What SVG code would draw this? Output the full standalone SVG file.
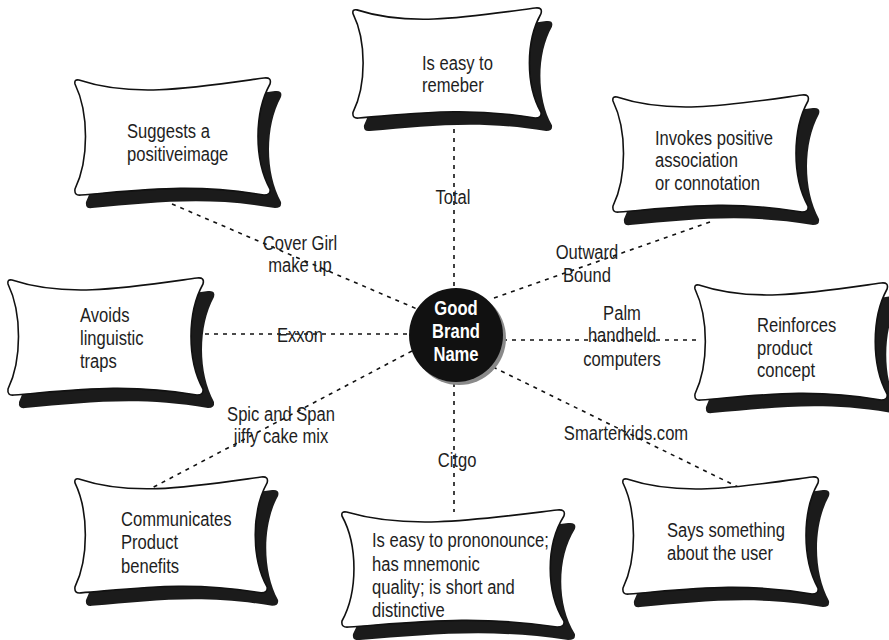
<svg xmlns="http://www.w3.org/2000/svg" width="889" height="640" viewBox="0 0 889 640">
<style>
.sh{fill:#1b1b1b;stroke:none}
.fr{fill:#fff;stroke:#111;stroke-width:1.6}
.t{font-family:"Liberation Sans",Arial,sans-serif;font-size:21px;fill:#1e1e1e}
.lb{text-anchor:middle}
.c{stroke:#111;stroke-width:1.6;stroke-dasharray:4 5;fill:none}
.ctr{font-family:"Liberation Sans",Arial,sans-serif;font-weight:bold;font-size:21px;fill:#fff;text-anchor:middle}
</style>
<defs>
<path id="p" vector-effect="non-scaling-stroke" d="M4,2 C58,20 117,10 189,0 Q197,-1 195,6 C179,35 179,82 195,111 Q196,117 189,117 C117,105 68,112 6,117 Q-1,118 0,111 C14,82 14,35 0,6 Q-1,1 4,2 Z"/>
</defs>
<rect width="889" height="640" fill="#fff"/>
<g id="connectors">
<line class="c" x1="454" y1="120" x2="454" y2="288"/>
<line class="c" x1="454" y1="383" x2="454" y2="512"/>
<line class="c" x1="205" y1="334" x2="409" y2="334"/>
<line class="c" x1="503" y1="340" x2="697" y2="340"/>
<line class="c" x1="172" y1="204" x2="417" y2="309"/>
<line class="c" x1="494" y1="298" x2="710" y2="222"/>
<line class="c" x1="412" y1="351" x2="150" y2="489"/>
<line class="c" x1="493" y1="367" x2="740" y2="488"/>
<text class="t lb" transform="translate(453,204) scale(0.79,1)">Total</text>
<text class="t lb" transform="translate(300,250) scale(0.79,1)"><tspan x="0" y="0">Cover Girl</tspan><tspan x="0" y="22">make up</tspan></text>
<text class="t lb" transform="translate(587,259) scale(0.79,1)"><tspan x="0" y="0">Outward</tspan><tspan x="0" y="23">Bound</tspan></text>
<text class="t lb" transform="translate(300,342) scale(0.79,1)">Exxon</text>
<text class="t lb" transform="translate(622,320) scale(0.79,1)"><tspan x="0" y="0">Palm</tspan><tspan x="0" y="22">handheld</tspan><tspan x="0" y="46">computers</tspan></text>
<text class="t lb" transform="translate(281,421) scale(0.79,1)"><tspan x="0" y="0">Spic and Span</tspan><tspan x="0" y="22">jiffy cake mix</tspan></text>
<text class="t lb" transform="translate(457,467) scale(0.79,1)">Citgo</text>
<text class="t lb" transform="translate(626,440) scale(0.79,1)">Smarterkids.com</text>
</g>
<g id="center">
<circle cx="459" cy="338" r="47" fill="#8a8a8a"/>
<circle cx="456" cy="335" r="47" fill="#111"/>
<text class="ctr" transform="translate(456,315) scale(0.79,1)"><tspan x="0" y="0">Good</tspan><tspan x="0" y="23">Brand</tspan><tspan x="0" y="46">Name</tspan></text>
</g>
<g id="n-suggests">
<use href="#p" class="sh" transform="translate(86,91)"/>
<use href="#p" class="fr" transform="translate(75,78)"/>
<text class="t" transform="translate(127,138) scale(0.79,1)"><tspan x="0" y="0">Suggests a</tspan><tspan x="0" y="23">positiveimage</tspan></text>
</g>
<g id="n-remember">
<use href="#p" class="sh" transform="translate(364,21) scale(0.964,0.94)"/>
<use href="#p" class="fr" transform="translate(353,8) scale(0.964,0.94)"/>
<text class="t" transform="translate(422,70) scale(0.79,1)"><tspan x="0" y="0">Is easy to</tspan><tspan x="0" y="22">remeber</tspan></text>
</g>
<g id="n-invokes">
<use href="#p" class="sh" transform="translate(624,108)"/>
<use href="#p" class="fr" transform="translate(613,95)"/>
<text class="t" transform="translate(655,145) scale(0.79,1)"><tspan x="0" y="0">Invokes positive</tspan><tspan x="0" y="22">association</tspan><tspan x="0" y="45">or connotation</tspan></text>
</g>
<g id="n-avoids">
<use href="#p" class="sh" transform="translate(19,291)"/>
<use href="#p" class="fr" transform="translate(8,278)"/>
<text class="t" transform="translate(80,322) scale(0.79,1)"><tspan x="0" y="0">Avoids</tspan><tspan x="0" y="23">linguistic</tspan><tspan x="0" y="46">traps</tspan></text>
</g>
<g id="n-reinforces">
<use href="#p" class="sh" transform="translate(706,296) scale(0.985,1)"/>
<use href="#p" class="fr" transform="translate(695,283) scale(0.985,1)"/>
<text class="t" transform="translate(757,332) scale(0.79,1)"><tspan x="0" y="0">Reinforces</tspan><tspan x="0" y="23">product</tspan><tspan x="0" y="45">concept</tspan></text>
</g>
<g id="n-communicates">
<use href="#p" class="sh" transform="translate(86,490) scale(0.985,0.99)"/>
<use href="#p" class="fr" transform="translate(75,477) scale(0.985,0.99)"/>
<text class="t" transform="translate(121,526) scale(0.79,1)"><tspan x="0" y="0">Communicates</tspan><tspan x="0" y="23">Product</tspan><tspan x="0" y="47">benefits</tspan></text>
</g>
<g id="n-pronounce">
<use href="#p" class="sh" transform="translate(353,523) scale(1.138,1)"/>
<use href="#p" class="fr" transform="translate(342,510) scale(1.138,1)"/>
<text class="t" transform="translate(372,547) scale(0.79,1)"><tspan x="0" y="0">Is easy to prononounce;</tspan><tspan x="0" y="24">has mnemonic</tspan><tspan x="0" y="47">quality; is short and</tspan><tspan x="0" y="70">distinctive</tspan></text>
</g>
<g id="n-says">
<use href="#p" class="sh" transform="translate(634,490)"/>
<use href="#p" class="fr" transform="translate(623,477)"/>
<text class="t" transform="translate(667,537) scale(0.79,1)"><tspan x="0" y="0">Says something</tspan><tspan x="0" y="23">about the user</tspan></text>
</g>
</svg>
